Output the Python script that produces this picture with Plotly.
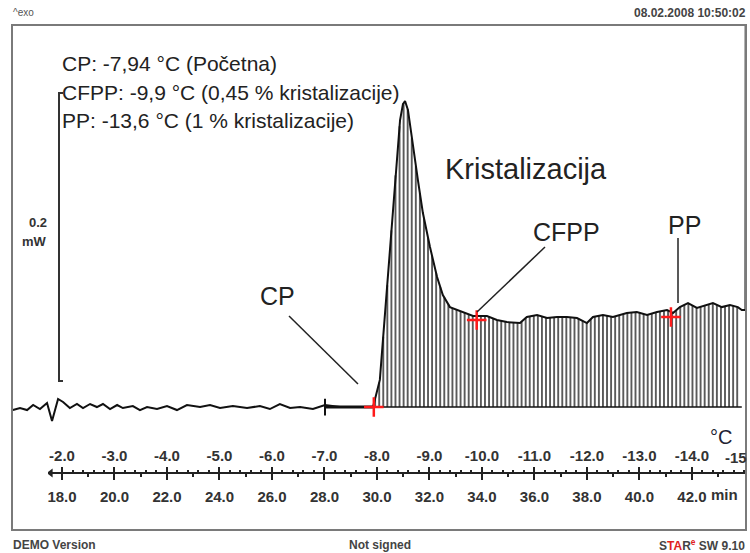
import numpy as np
import plotly.graph_objects as go

# ---------------- data ----------------
time_min = [16.13, 16.40, 16.67, 16.90, 17.16, 17.43, 17.62, 17.85, 18.04, 18.30,
            18.57, 18.80, 19.07, 19.33, 19.56, 19.83, 20.10, 20.32, 20.70, 20.97,
            21.24, 21.62, 22.00, 22.38, 22.76, 23.26, 23.64, 24.02, 24.51, 25.05,
            25.54, 25.92, 26.30, 26.69, 27.07, 27.56, 28.02, 28.59, 29.16, 29.85,
            30.11, 30.42, 30.69, 30.88, 30.99, 31.07, 31.18, 31.37, 31.56, 31.75,
            32.02, 32.29, 32.51, 32.78, 33.16, 33.66, 34.19, 34.57, 34.95, 35.45,
            35.71, 36.10, 36.48, 36.86, 37.24, 37.62, 38.00, 38.23, 38.61, 38.99,
            39.52, 39.90, 40.29, 40.67, 41.05, 41.28, 41.54, 41.85, 42.19, 42.57,
            42.80, 43.14, 43.45, 43.75, 43.90, 44.04, 44.05]
heat_mw = [-0.0021, -0.0007, -0.0021, 0.0014, -0.0014, 0.0028, -0.0097, 0.0056, 0.0035, -0.0007,
           0.0021, -0.0007, 0.0021, 0.0, 0.0021, -0.0014, 0.0014, -0.0007, 0.0007, -0.0021,
           0.0, -0.0014, 0.0007, -0.0021, 0.0014, 0.0, 0.0014, -0.0007, 0.0007, -0.0007,
           0.0007, -0.0014, 0.0021, -0.0007, 0.0, -0.0014, 0.0014, 0.0, 0.0, 0.0,
           0.0188, 0.0903, 0.1576, 0.1993, 0.2104, 0.2125, 0.2063, 0.1806, 0.1576, 0.1347,
           0.1111, 0.0903, 0.0778, 0.0694, 0.0667, 0.0632, 0.0632, 0.0604, 0.0590, 0.0583,
           0.0625, 0.0639, 0.0618, 0.0625, 0.0625, 0.0618, 0.0583, 0.0625, 0.0639, 0.0625,
           0.0653, 0.0660, 0.0639, 0.0660, 0.0674, 0.0653, 0.0694, 0.0722, 0.0688, 0.0708,
           0.0722, 0.0694, 0.0708, 0.0694, 0.0674, 0.0674, 0.30]

# characteristic points
point_names = ["CP", "CFPP", "PP"]
point_temp_c = [-7.94, -9.9, -13.6]
point_heat_mw = [0.0, 0.0604, 0.0625]

# temperature programme: -2.0 degC at 18.0 min, cooling 0.5 K/min
T_REF_MIN = 18.0
T_REF_C = -2.0
RATE_C_PER_MIN = -0.5

# integration baseline (min)
baseline_start = 28.02
baseline_end = 43.9
onset_min = 29.85

time_ticks = [18, 20, 22, 24, 26, 28, 30, 32, 34, 36, 38, 40, 42]
time_labels = ["18.0", "20.0", "22.0", "24.0", "26.0", "28.0", "30.0", "32.0",
               "34.0", "36.0", "38.0", "40.0", "42.0"]
temp_ticks = [-2, -3, -4, -5, -6, -7, -8, -9, -10, -11, -12, -13, -14]
temp_labels = ["-2.0", "-3.0", "-4.0", "-5.0", "-6.0", "-7.0", "-8.0", "-9.0",
               "-10.0", "-11.0", "-12.0", "-13.0", "-14.0"]
temp_end_label = "-15"

legend_lines = ["CP: -7,94 °C (Početna)",
                "CFPP: -9,9 °C (0,45 % kristalizacije)",
                "PP: -13,6 °C (1 % kristalizacije)"]
scale_mw = 0.2

# ---------------- layout helpers ----------------
W, H = 750, 553
L, R, T, B = 12, 746, 25, 530


def pxx(x):
    return (x - L) / (R - L)


def pxy(y):
    return (B - y) / (B - T)


X0, X1 = 16.095, 44.06
Y0, Y1 = -0.0854, 0.2653


def t2c(t):
    return T_REF_C + (t - T_REF_MIN) * RATE_C_PER_MIN


def c2t(c):
    return T_REF_MIN + (c - T_REF_C) / RATE_C_PER_MIN


FONT = "Liberation Sans"
fig = go.Figure()

# hatching under the crystallisation peak
ht = np.arange(onset_min + 0.08, 43.85, 0.155)
hy = np.interp(ht, time_min, heat_mw)
hx_line, hy_line = [], []
for a, b in zip(ht, hy):
    hx_line += [a, a, None]
    hy_line += [0.0, b, None]
fig.add_trace(go.Scatter(x=hx_line, y=hy_line, mode="lines",
                         line=dict(color="#5a5a5a", width=1.9), hoverinfo="skip"))

# baseline
fig.add_trace(go.Scatter(x=[baseline_start, baseline_end], y=[0, 0], mode="lines",
                         line=dict(color="#111", width=1.5), hoverinfo="skip"))
fig.add_trace(go.Scatter(x=[baseline_start, onset_min], y=[0, 0], mode="lines",
                         line=dict(color="#111", width=3), hoverinfo="skip"))
fig.add_trace(go.Scatter(x=[baseline_start], y=[0], mode="markers",
                         marker=dict(symbol="line-ns", size=12,
                                     line=dict(color="#111", width=2)),
                         hoverinfo="skip"))

# DSC curve
fig.add_trace(go.Scatter(x=time_min, y=heat_mw, mode="lines",
                         line=dict(color="#111", width=2), hoverinfo="skip"))

# characteristic points
fig.add_trace(go.Scatter(x=[c2t(c) for c in point_temp_c], y=point_heat_mw,
                         mode="markers",
                         marker=dict(symbol="cross-thin", size=14,
                                     line=dict(color="#ff1a1a", width=2.5)),
                         hoverinfo="skip"))

# axis helper traces (invisible)
d0, d1 = pxx(48), pxx(745.5)
ax_t0 = X0 + d0 * (X1 - X0)
ax_t1 = X0 + d1 * (X1 - X0)
axis_pos = pxy(473)
axis_y = Y0 + axis_pos * (Y1 - Y0)
fig.add_trace(go.Scatter(x=[ax_t0, ax_t1], y=[0, 0], xaxis="x2", yaxis="y",
                         mode="markers", marker=dict(opacity=0), hoverinfo="skip"))
fig.add_trace(go.Scatter(x=[t2c(ax_t0), t2c(ax_t1)], y=[0, 0], xaxis="x3", yaxis="y",
                         mode="markers", marker=dict(opacity=0), hoverinfo="skip"))
# arrow tip at the axis start
fig.add_trace(go.Scatter(x=[ax_t0 + 0.1], y=[axis_y], xaxis="x2", yaxis="y",
                         mode="markers", hoverinfo="skip",
                         marker=dict(symbol="triangle-left", size=8, color="#222")))

time_minor = [v for v in range(19, 44, 2)]
temp_minor = [round(v, 1) for v in np.arange(-2.2, -15.0, -0.2)
              if abs(v - round(v)) > 1e-6] + [-15.0]

tickfont = dict(family=FONT, size=15, color="#333", weight="bold")
fig.update_layout(
    width=W, height=H,
    margin=dict(l=L, r=W - R, t=T, b=H - B),
    paper_bgcolor="white", plot_bgcolor="rgba(0,0,0,0)", showlegend=False,
    xaxis=dict(range=[X0, X1], domain=[0, 1], visible=False),
    yaxis=dict(range=[Y0, Y1], domain=[0, 1], visible=False),
    xaxis2=dict(domain=[d0, d1], range=[ax_t0, ax_t1], anchor="free", position=axis_pos,
                side="bottom", tickmode="array", tickvals=time_ticks, ticktext=time_labels,
                ticks="outside", ticklen=6, tickwidth=2, tickcolor="#222",
                showline=True, linecolor="#222", linewidth=2, showgrid=False,
                zeroline=False, tickfont=tickfont, ticklabelstandoff=4,
                minor=dict(tickmode="array", tickvals=time_minor, ticks="outside",
                           ticklen=3, tickwidth=1.5, tickcolor="#222", showgrid=False)),
    xaxis3=dict(domain=[d0, d1], range=[t2c(ax_t0), t2c(ax_t1)], anchor="free",
                overlaying="x2", position=axis_pos, side="top", tickmode="array",
                tickvals=temp_ticks, ticktext=temp_labels, ticks="outside", ticklen=6,
                tickwidth=2, tickcolor="#222", showline=False, showgrid=False,
                zeroline=False, tickfont=tickfont,
                minor=dict(tickmode="array", tickvals=temp_minor, ticks="outside",
                           ticklen=3, tickwidth=1.5, tickcolor="#222", showgrid=False)),
)

shapes = []
# frame
shapes.append(dict(type="rect", xref="paper", yref="paper", x0=0, x1=1, y0=0, y1=1,
                   line=dict(color="#7a7a7a", width=2)))
# scale bar 0.2 mW
sb_x0, sb_x1 = pxx(59), pxx(63)
sb_base = 0.0181
shapes.append(dict(type="path", xref="paper", yref="y",
                   path=f"M {sb_x1},{sb_base} L {sb_x0},{sb_base} L {sb_x0},{sb_base + scale_mw} L {sb_x1},{sb_base + scale_mw}",
                   line=dict(color="#333", width=2)))
# leader lines
for (xa, ya, xb, yb) in [(289, 316, 358, 384), (545, 247, 477, 312), (678, 238, 678, 303)]:
    shapes.append(dict(type="line", xref="paper", yref="paper",
                       x0=pxx(xa), y0=pxy(ya), x1=pxx(xb), y1=pxy(yb),
                       line=dict(color="#222", width=1.5)))
fig.update_layout(shapes=shapes)

ann = []


def text(x, y, s, size, color="#222", xanchor="left", bold=False, family=FONT):
    ann.append(dict(xref="paper", yref="paper", x=pxx(x), y=pxy(y), text=s,
                    showarrow=False, xanchor=xanchor, yanchor="middle",
                    font=dict(family=family, size=size, color=color,
                              weight="bold" if bold else "normal")))


for i, s in enumerate(legend_lines):
    text(60, 64 + i * 28.5, s, 21)
text(443, 169, "Kristalizacija", 29)
text(277, 296, point_names[0], 25, xanchor="center")
text(566, 232, point_names[1], 25, xanchor="center")
text(684, 225, point_names[2], 25, xanchor="center")
text(49, 222, "0.2", 13, color="#333", xanchor="right", bold=True)
text(49, 241, "mW", 13, color="#333", xanchor="right", bold=True)
text(721, 437, "°C", 20, color="#223", xanchor="center")
text(709, 494, "min", 15, color="#333", bold=True)
text(749, 457, temp_end_label, 15, color="#333", xanchor="right", bold=True)
text(11, 13, "^exo", 10, color="#555")
text(748, 13, "08.02.2008 10:50:02", 12, color="#444", xanchor="right", bold=True)
text(11, 545, "DEMO Version", 12, color="#444", bold=True)
text(380, 545, "Not signed", 12, color="#444", xanchor="center", bold=True)
text(747, 545, "S<span style='color:#e02020'>TA</span>R<sup><span style='color:#e02020'>e</span></sup> SW 9.10",
     12, color="#444", xanchor="right", bold=True)
fig.update_layout(annotations=ann)

fig.write_html("out.html", config={"displayModeBar": False},
               post_script="document.body.style.margin='0';")
